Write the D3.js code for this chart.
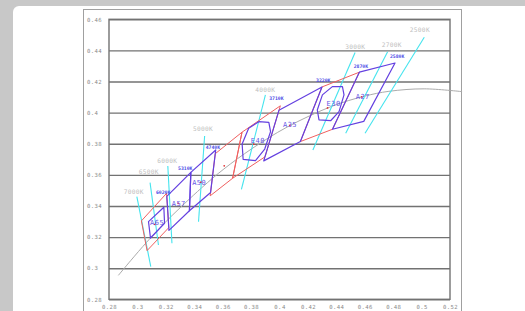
<!DOCTYPE html>
<html>
<head>
<meta charset="utf-8">
<script src="https://cdn.jsdelivr.net/npm/d3@7/dist/d3.min.js"></script>
<style>
  html, body { margin: 0; padding: 0; background: #c8c8c8; overflow: hidden; }
  svg { display: block; }
  .tick text { font-family: "DejaVu Sans Mono", monospace; }
</style>
</head>
<body>
<svg id="chart" width="525" height="311"></svg>
<script>
// axis ticks
const xTicks = [0.28, 0.30, 0.32, 0.34, 0.36, 0.38, 0.40, 0.42, 0.44, 0.46, 0.48, 0.50, 0.52];
const xTickLabels = ["0.28", "0.3", "0.32", "0.34", "0.36", "0.38", "0.4", "0.42", "0.44", "0.46", "0.48", "0.5", "0.52"];
const yTicks = [0.28, 0.30, 0.32, 0.34, 0.36, 0.38, 0.40, 0.42, 0.44, 0.46];
const yTickLabels = ["0.28", "0.3", "0.32", "0.34", "0.36", "0.38", "0.4", "0.42", "0.44", "0.46"];

// blackbody locus (x, y)
const locus = [
  [0.2866, 0.2954], [0.2952, 0.3048], [0.3064, 0.3166], [0.3135, 0.3236],
  [0.3221, 0.3318], [0.3451, 0.3516], [0.3609, 0.3638], [0.3805, 0.3768],
  [0.4053, 0.3907], [0.4369, 0.4041], [0.4599, 0.4106], [0.4770, 0.4137],
  [0.5018, 0.4153], [0.5285, 0.4135]
];

// iso-CCT lines
const isoNames = ["7000K", "6500K", "6000K", "5000K", "4000K", "3000K", "2700K", "2500K"];
const isoLines = [
  [[0.2996, 0.3460], [0.3094, 0.3010]],
  [[0.3089, 0.3550], [0.3148, 0.3149]],
  [[0.3214, 0.3657], [0.3243, 0.3160]],
  [[0.3473, 0.3850], [0.3430, 0.3299]],
  [[0.3901, 0.4114], [0.3732, 0.3507]],
  [[0.4532, 0.4386], [0.4235, 0.3760]],
  [[0.4761, 0.4392], [0.4466, 0.3867]],
  [[0.5019, 0.4485], [0.4602, 0.3867]]
];
const isoLabelPos = [
  [0.2974, 0.3492], [0.3080, 0.3620], [0.3210, 0.3689], [0.3462, 0.3895],
  [0.3900, 0.4148], [0.4533, 0.4420], [0.4790, 0.4435], [0.4988, 0.4532]
];

// quadrangles drawn in red
const redQuads = [
  [[0.3205, 0.3481], [0.3028, 0.3304], [0.3068, 0.3113], [0.3221, 0.3261]],
  [[0.3736, 0.3874], [0.3548, 0.3736], [0.3512, 0.3465], [0.3670, 0.3578]],
  [[0.4006, 0.4044], [0.3736, 0.3874], [0.3670, 0.3578], [0.3898, 0.3716]],
  [[0.4562, 0.4260], [0.4299, 0.4165], [0.4147, 0.3814], [0.4373, 0.3893]]
];

// shapes drawn in purple
const purpleShapes = [
  [[0.3078, 0.3299], [0.3186, 0.3392], [0.3191, 0.3289], [0.3092, 0.3194]],
  [[0.3376, 0.3616], [0.3207, 0.3462], [0.3222, 0.3243], [0.3366, 0.3369]],
  [[0.3551, 0.3760], [0.3376, 0.3616], [0.3366, 0.3369], [0.3515, 0.3487]],
  [[0.4299, 0.4165], [0.3996, 0.4015], [0.3889, 0.3690], [0.4147, 0.3814]],
  [[0.4813, 0.4319], [0.4562, 0.4260], [0.4373, 0.3893], [0.4593, 0.3944]],
  [[0.3854, 0.3942], [0.3925, 0.3938], [0.3937, 0.3878], [0.3896, 0.3766],
   [0.3831, 0.3691], [0.3744, 0.3700], [0.3737, 0.3799], [0.3783, 0.3900]],
  [[0.4372, 0.4167], [0.4443, 0.4167], [0.4454, 0.4114], [0.4419, 0.4006],
   [0.4360, 0.3948], [0.4278, 0.3953], [0.4266, 0.4017], [0.4302, 0.4114]]
];

// shape names
const shapeNames = ["A65", "A57", "A50", "E40", "A35", "E30", "A27"];
const shapeLabelPos = [
  [0.3139, 0.3293], [0.3291, 0.3413], [0.3435, 0.3550], [0.3848, 0.3824],
  [0.4074, 0.3921], [0.4381, 0.4056], [0.4586, 0.4103]
];
const centers = [
  [0.3123, 0.3282], [0.3287, 0.3417], [0.3447, 0.3553], [0.3611, 0.3658],
  [0.3818, 0.3797], [0.4073, 0.3917], [0.4338, 0.4030], [0.4578, 0.4101]
];

// corner CCT labels
const cornerNames = ["6020K", "5310K", "4740K", "3710K", "3220K", "2870K", "2580K"];
const cornerLabelPos = [
  [0.3181, 0.3488], [0.3337, 0.3642], [0.3531, 0.3777], [0.3978, 0.4092],
  [0.4308, 0.4210], [0.4573, 0.4296], [0.4828, 0.4366]
];

const svg = d3.select("#chart");
const WIDTH = +svg.attr("width");
const HEIGHT = +svg.attr("height");

// page background + white panel
svg.append("rect").attr("width", WIDTH).attr("height", HEIGHT).attr("fill", "#c8c8c8");
svg.append("rect")
   .attr("x", 13).attr("y", 6)
   .attr("width", WIDTH).attr("height", HEIGHT + 20)
   .attr("rx", 6)
   .attr("fill", "#ffffff");

// outer chart frame
svg.append("rect")
   .attr("x", 83.5).attr("y", 9.5)
   .attr("width", 378).attr("height", 320)
   .attr("fill", "none")
   .attr("stroke", "#a0a0a0")
   .attr("stroke-width", 1);

const xScale = d3.scaleLinear().domain([0.28, 0.52]).range([109, 450]);
const yScale = d3.scaleLinear().domain([0.28, 0.46]).range([299.3, 19.3]);

// grid / y axis
const yAxis = d3.axisLeft(yScale)
                .tickValues(yTicks)
                .tickSize(-(xScale(0.52) - xScale(0.28)))
                .tickFormat((d, i) => yTickLabels[i]);
const gy = svg.append("g").attr("transform", "translate(" + xScale(0.28) + ",0)").call(yAxis);
gy.select(".domain").remove();
gy.selectAll(".tick line").attr("stroke", "#727272").attr("stroke-width", 1.4);
gy.selectAll(".tick text")
  .attr("x", -22)
  .attr("text-anchor", "start")
  .attr("fill", "#8a8a8a")
  .style("font-size", "5.6px")
  .style("letter-spacing", "0.4px");

// x axis labels
const xAxis = d3.axisBottom(xScale)
                .tickValues(xTicks)
                .tickSize(0)
                .tickFormat((d, i) => xTickLabels[i]);
const gx = svg.append("g").attr("transform", "translate(0," + yScale(0.28) + ")").call(xAxis);
gx.select(".domain").remove();
gx.selectAll(".tick text")
  .attr("y", 6)
  .attr("fill", "#8a8a8a")
  .style("font-size", "5.6px")
  .style("letter-spacing", "0.4px");

// plot frame sides
svg.append("rect")
   .attr("x", xScale(0.28)).attr("y", yScale(0.46))
   .attr("width", xScale(0.52) - xScale(0.28))
   .attr("height", yScale(0.28) - yScale(0.46))
   .attr("fill", "none")
   .attr("stroke", "#727272")
   .attr("stroke-width", 1.4);

const line = d3.line().x(d => xScale(d[0])).y(d => yScale(d[1]));
const smooth = d3.line().x(d => xScale(d[0])).y(d => yScale(d[1])).curve(d3.curveCatmullRom);
const closed = d3.line().x(d => xScale(d[0])).y(d => yScale(d[1])).curve(d3.curveLinearClosed);

// locus
svg.append("path")
   .attr("d", smooth(locus))
   .attr("fill", "none")
   .attr("stroke", "#ababab")
   .attr("stroke-width", 1);

// iso lines
svg.selectAll(".iso")
   .data(isoLines)
   .enter()
   .append("path")
   .attr("class", "iso")
   .attr("d", d => line(d))
   .attr("stroke", "#45e4ee")
   .attr("stroke-width", 1.1)
   .attr("fill", "none");

svg.selectAll(".isoLabel")
   .data(isoNames)
   .enter()
   .append("text")
   .attr("class", "isoLabel")
   .attr("x", (d, i) => xScale(isoLabelPos[i][0]))
   .attr("y", (d, i) => yScale(isoLabelPos[i][1]) + 2)
   .attr("text-anchor", "middle")
   .attr("fill", "#c0c0c0")
   .style("font-family", "DejaVu Sans Mono, monospace")
   .style("font-size", "6.2px")
   .style("letter-spacing", "0.3px")
   .text(d => d);

// red quadrangles
svg.selectAll(".redQuad")
   .data(redQuads)
   .enter()
   .append("path")
   .attr("class", "redQuad")
   .attr("d", d => closed(d))
   .attr("fill", "none")
   .attr("stroke", "#f06060")
   .attr("stroke-width", 1);

// purple shapes
svg.selectAll(".purple")
   .data(purpleShapes)
   .enter()
   .append("path")
   .attr("class", "purple")
   .attr("d", d => closed(d))
   .attr("fill", "none")
   .attr("stroke", "#6440e0")
   .attr("stroke-width", 1.2)
   .attr("stroke-linejoin", "round");

// centre dots
svg.selectAll(".dot")
   .data(centers)
   .enter()
   .append("circle")
   .attr("class", "dot")
   .attr("cx", d => xScale(d[0]))
   .attr("cy", d => yScale(d[1]))
   .attr("r", 0.9)
   .attr("fill", "#e03030");

// shape names
svg.selectAll(".shapeLabel")
   .data(shapeNames)
   .enter()
   .append("text")
   .attr("class", "shapeLabel")
   .attr("x", (d, i) => xScale(shapeLabelPos[i][0]))
   .attr("y", (d, i) => yScale(shapeLabelPos[i][1]) + 2.5)
   .attr("text-anchor", "middle")
   .attr("fill", "#6a5ae6")
   .style("font-family", "DejaVu Sans Mono, monospace")
   .style("font-size", "7px")
   .style("letter-spacing", "0.5px")
   .text(d => d);

// corner CCT labels
svg.selectAll(".cornerLabel")
   .data(cornerNames)
   .enter()
   .append("text")
   .attr("class", "cornerLabel")
   .attr("x", (d, i) => xScale(cornerLabelPos[i][0]))
   .attr("y", (d, i) => yScale(cornerLabelPos[i][1]) + 1.8)
   .attr("text-anchor", "middle")
   .attr("fill", "#4a4ae6")
   .style("font-family", "DejaVu Sans Mono, monospace")
   .style("font-size", "4.8px")
   .style("font-weight", "bold")
   .text(d => d);
</script>
</body>
</html>
